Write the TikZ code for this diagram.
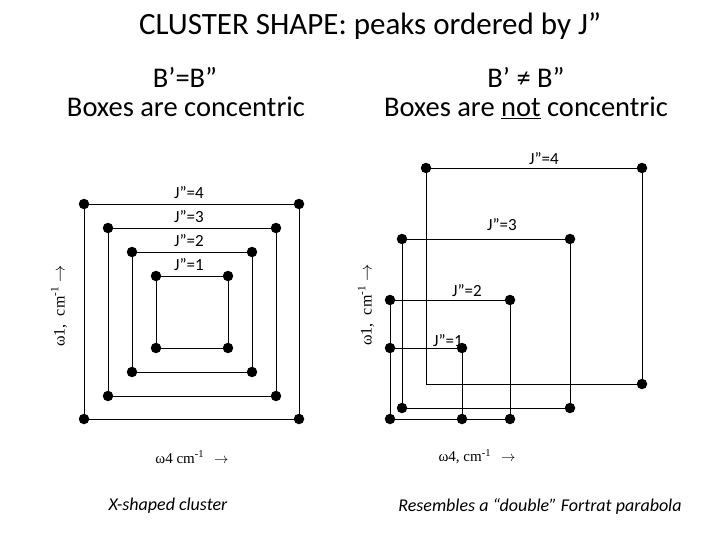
\documentclass[tikz,border=0pt]{standalone}
\usepackage{fontspec}
\setmainfont{Carlito}
\newfontfamily\timesf{Liberation Serif}
\begin{document}
\begin{tikzpicture}[x=1pt,y=-1pt,
  dot/.style={circle,fill=black,inner sep=0pt,minimum size=10.5pt},
  edge/.style={draw=black,line width=0.8pt},
  jlab/.style={font=\fontsize{17}{19}\selectfont,inner sep=0pt},
  head/.style={font=\fontsize{28.5}{32}\selectfont,inner sep=0pt,anchor=base},
  titlestyle/.style={font=\fontsize{31}{36}\selectfont,inner sep=0pt,anchor=base},
  axlab/.style={font=\timesf\fontsize{15}{18}\selectfont,inner sep=0pt},
  vaxlab/.style={font=\timesf\fontsize{16}{18}\selectfont,inner sep=0pt,rotate=90},
  captext/.style={font=\fontsize{18}{21}\selectfont\itshape,inner sep=0pt}]
\useasboundingbox (0,0) rectangle (720,540);
% headings
\node[titlestyle] (title) at (370,35) {CLUSTER SHAPE: peaks ordered by J”};
\node[head] (hl1) at (185,88) {B’=B”};
\node[head] (hl2) at (186,117) {Boxes are concentric};
\node[head] (hr1) at (526,88) {B’ ≠ B”};
\node[head] (hr2) at (526,117) {Boxes are \underline{not} concentric};
% left concentric boxes
\foreach \n/\xa/\ya/\xb/\yb in {4/84/204/299/419, 3/108/228/276/396, 2/132/252/252/372, 1/156/276/228/348}{
  \node[dot] (L\n a) at (\xa,\ya) {};
  \node[dot] (L\n b) at (\xb,\ya) {};
  \node[dot] (L\n c) at (\xb,\yb) {};
  \node[dot] (L\n d) at (\xa,\yb) {};
  \draw[edge] (L\n a) -- (L\n b) -- (L\n c) -- (L\n d) -- (L\n a);
}
\node[jlab] (lj4) at (189,193) {J”=4};
\node[jlab] (lj3) at (189,217) {J”=3};
\node[jlab] (lj2) at (189,241) {J”=2};
\node[jlab] (lj1) at (189,265) {J”=1};
% right non-concentric boxes
\node[dot] (R4a) at (426,168) {};
\node[dot] (R4b) at (642,168) {};
\node[dot] (R4c) at (642,384) {};
\coordinate (R4d) at (426,384);
\draw[edge] (R4a) -- (R4b) -- (R4c) -- (R4d) -- (R4a);
\node[dot] (R3a) at (402,239) {};
\node[dot] (R3b) at (570,239) {};
\node[dot] (R3c) at (570,408) {};
\node[dot] (R3d) at (402,408) {};
\draw[edge] (R3a) -- (R3b) -- (R3c) -- (R3d) -- (R3a);
\node[dot] (R2a) at (390,300) {};
\node[dot] (R2b) at (510,300) {};
\node[dot] (R2c) at (510,419) {};
\node[dot] (R2d) at (390,419) {};
\draw[edge] (R2a) -- (R2b) -- (R2c) -- (R2d) -- (R2a);
\node[dot] (R1a) at (390,348) {};
\node[dot] (R1b) at (462,348) {};
\node[dot] (R1c) at (462,419) {};
\draw[edge] (R1a) -- (R1b) -- (R1c) -- (R2d);
\node[jlab] (rj4) at (544,159) {J”=4};
\node[jlab] (rj3) at (502,225) {J”=3};
\node[jlab] (rj2) at (467,291) {J”=2};
\node[jlab] (rj1) at (448,341) {J”=1};
% axis labels
\node[vaxlab] (ly) at (59,306) {ω1,\ \ cm\textsuperscript{-1} $\rightarrow$};
\node[vaxlab] (ry) at (366,305) {ω1,\ \ cm\textsuperscript{-1} $\rightarrow$};
\node[axlab] (lx) at (192,457) {ω4 cm\textsuperscript{-1} \, $\rightarrow$};
\node[axlab] (rx) at (477,457) {ω4, cm\textsuperscript{-1} \, $\rightarrow$};
% captions
\node[captext] (lcap) at (168,506) {X-shaped cluster};
\node[captext] (rcap) at (540,506) {Resembles a “double” Fortrat parabola};
\end{tikzpicture}
\end{document}
